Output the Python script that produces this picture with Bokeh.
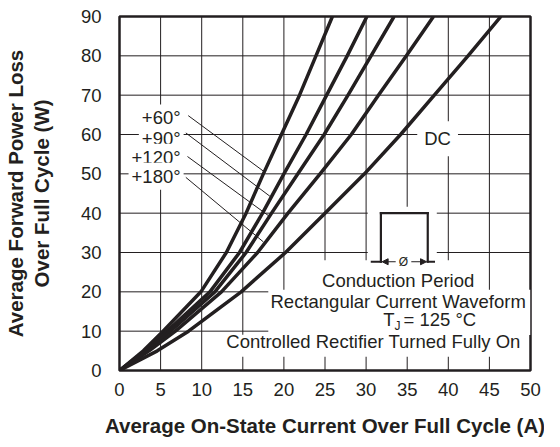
from bokeh.plotting import figure
from bokeh.models import Range1d, LinearAxis, FixedTicker, Label, Arrow, NormalHead, BoxAnnotation
from bokeh.embed import file_html
from bokeh.resources import INLINE

# ---- data (current in A at each power level in W) ----
power_w = [0, 5, 10, 20, 30, 40, 50, 60, 70, 80, 90]
current_60 = [0, 2.9, 5.3, 9.9, 13.0, 15.4, 17.5, 19.7, 21.9, 23.9, 25.9]
current_90 = [0, 3.1, 5.8, 11.0, 14.6, 17.4, 20.0, 22.7, 25.2, 27.7, 30.1]
current_120 = [0, 3.3, 6.2, 11.6, 15.4, 18.5, 21.7, 24.9, 27.8, 30.6, 33.4]
current_180 = [0, 3.6, 6.8, 12.4, 16.8, 20.5, 24.4, 28.2, 31.5, 34.9, 38.2]
current_dc = [0, 4.6, 8.4, 14.8, 20.2, 25.0, 29.8, 34.2, 38.3, 42.4, 46.4]

angle_labels = ["+60°", "+90°", "+120°", "+180°"]
x_ticks = [0, 5, 10, 15, 20, 25, 30, 35, 40, 45, 50]
y_ticks = [0, 10, 20, 30, 40, 50, 60, 70, 80, 90]

INK = "#231f20"
FONT = "Liberation Sans"
FS = "18.5px"
X_MIN, X_MAX, Y_MIN, Y_MAX = 0, 50, 0, 90

p = figure(width=544, height=439, x_range=Range1d(X_MIN, X_MAX), y_range=Range1d(Y_MIN, Y_MAX),
           output_backend="svg", toolbar_location=None,
           min_border_left=113, min_border_right=14, min_border_top=16, min_border_bottom=66,
           background_fill_color="white", border_fill_color="white")
p.outline_line_color = INK
p.outline_line_width = 2.5
p.xgrid.visible = False
p.ygrid.visible = False

for ax, ticks in ((p.xaxis, x_ticks), (p.yaxis, y_ticks)):
    ax.ticker = FixedTicker(ticks=ticks)
    ax.axis_line_color = None
    ax.major_tick_in = 0
    ax.major_tick_out = 0
    ax.minor_tick_in = 0
    ax.minor_tick_out = 0
    ax.major_label_text_font = FONT
    ax.major_label_text_font_size = FS
    ax.major_label_text_color = INK
    ax.axis_label_text_font = FONT
    ax.axis_label_text_font_style = "bold"
    ax.axis_label_text_font_size = "20.5px"
    ax.axis_label_text_color = INK

p.xaxis.axis_label = "Average On-State Current Over Full Cycle (A)"
p.xaxis.major_label_standoff = 12
p.xaxis.axis_label_standoff = 15
p.yaxis.axis_label = "Over Full Cycle (W)"
p.yaxis.major_label_standoff = 18
p.yaxis.axis_label_standoff = 25

outer = LinearAxis(axis_label="Average Forward Power Loss", ticker=FixedTicker(ticks=[]),
                   axis_line_color=None, major_tick_in=0, major_tick_out=0,
                   minor_tick_in=0, minor_tick_out=0, major_label_standoff=0,
                   major_label_text_font_size="0px", axis_label_standoff=0,
                   axis_label_text_font=FONT, axis_label_text_font_style="bold",
                   axis_label_text_font_size="20.5px", axis_label_text_color=INK)
p.add_layout(outer, "left")

# grid: one continuous zig-zag path per direction (connectors run along the frame edges)
vx, vy = [], []
for i, xt in enumerate(x_ticks):
    ends = (Y_MIN, Y_MAX) if i % 2 == 0 else (Y_MAX, Y_MIN)
    vx += [xt, xt]
    vy += list(ends)
p.line(vx, vy, line_color=INK, line_width=1)
hx, hy = [], []
for i, yt in enumerate(y_ticks):
    ends = (X_MIN, X_MAX) if i % 2 == 0 else (X_MAX, X_MIN)
    hx += list(ends)
    hy += [yt, yt]
p.line(hx, hy, line_color=INK, line_width=1)

# curves
for xs in (current_60, current_90, current_120, current_180, current_dc):
    p.line(xs, power_w, line_color=INK, line_width=3.5, line_join="round")

# leader lines from the angle labels to their curves
leader_x0 = [8.36, 8.07, 8.27, 8.07]
leader_y0 = [64.8, 60.4, 54.4, 49.1]
leader_x1 = [17.5, 18.3, 18.1, 17.5]
leader_y1 = [50.7, 44.3, 39.4, 32.7]
p.segment(x0=leader_x0, y0=leader_y0, x1=leader_x1, y1=leader_y1,
          line_color=INK, line_width=1)

# white areas behind the explanatory texts and the waveform sketch
gap_left = [30.2, 23.9, 18.1, 12.1]
gap_right = [38.6, 44.2, 50.0, 49.8]
gap_top = [41.6, 28.0, 20.5, 9.1]
gap_bottom = [27.7, 20.4, 9.0, 3.5]
for l, r, t, b in zip(gap_left, gap_right, gap_top, gap_bottom):
    p.add_layout(BoxAnnotation(left=l, right=r, top=t, bottom=b, fill_color="white",
                               fill_alpha=1.0, line_color=None, line_alpha=0))

label_y = [64.2, 58.9, 54.2, 49.4]
for txt, yy in zip(angle_labels, label_y):
    p.add_layout(Label(x=7.8, y=yy, text=txt, text_align="right", text_baseline="middle",
                       text_font=FONT, text_font_size=FS, text_color=INK,
                       background_fill_color="white", padding=3))

p.add_layout(Label(x=38.7, y=58.9, text="DC", text_align="center", text_baseline="middle",
                   text_font=FONT, text_font_size=FS, text_color=INK,
                   background_fill_color="white", padding=7))

# rectangular waveform sketch (drawn above the white area)
pulse_x = [30.7, 31.8, 31.8, 37.5, 37.5, 38.25]
pulse_y = [27.65, 27.65, 40.0, 40.0, 27.65, 27.65]
for i in range(len(pulse_x) - 1):
    p.add_layout(Arrow(start=None, end=None, x_start=pulse_x[i], y_start=pulse_y[i],
                       x_end=pulse_x[i + 1], y_end=pulse_y[i + 1],
                       line_color=INK, line_width=2.2, line_cap="square"))
for xs, xe in ((33.6, 31.95), (35.5, 37.35)):
    p.add_layout(Arrow(end=NormalHead(size=6, fill_color=INK, line_color=INK, line_width=1),
                       x_start=xs, y_start=27.65, x_end=xe, y_end=27.65,
                       line_color=INK, line_width=1))
p.add_layout(Label(x=34.55, y=27.65, text="Ø", text_align="center", text_baseline="middle",
                   text_font=FONT, text_font_size="12px", text_color=INK))

# explanatory text block
for txt, xx, yy in (("Conduction Period", 33.9, 23.0),
                    ("Rectangular Current Waveform", 33.9, 17.6),
                    ("Controlled Rectifier Turned Fully On", 30.9, 7.4)):
    p.add_layout(Label(x=xx, y=yy, text=txt, text_align="center", text_baseline="middle",
                       text_font=FONT, text_font_size=FS, text_color=INK))
p.add_layout(Label(x=32.1, y=12.9, text="T", text_align="left", text_baseline="middle",
                   text_font=FONT, text_font_size=FS, text_color=INK))
p.add_layout(Label(x=33.45, y=11.3, text="J", text_align="left", text_baseline="middle",
                   text_font=FONT, text_font_size="12px", text_color=INK))
p.add_layout(Label(x=34.55, y=12.9, text="= 125 °C", text_align="left", text_baseline="middle",
                   text_font=FONT, text_font_size=FS, text_color=INK))

open("out.html", "w").write(file_html(p, INLINE))
